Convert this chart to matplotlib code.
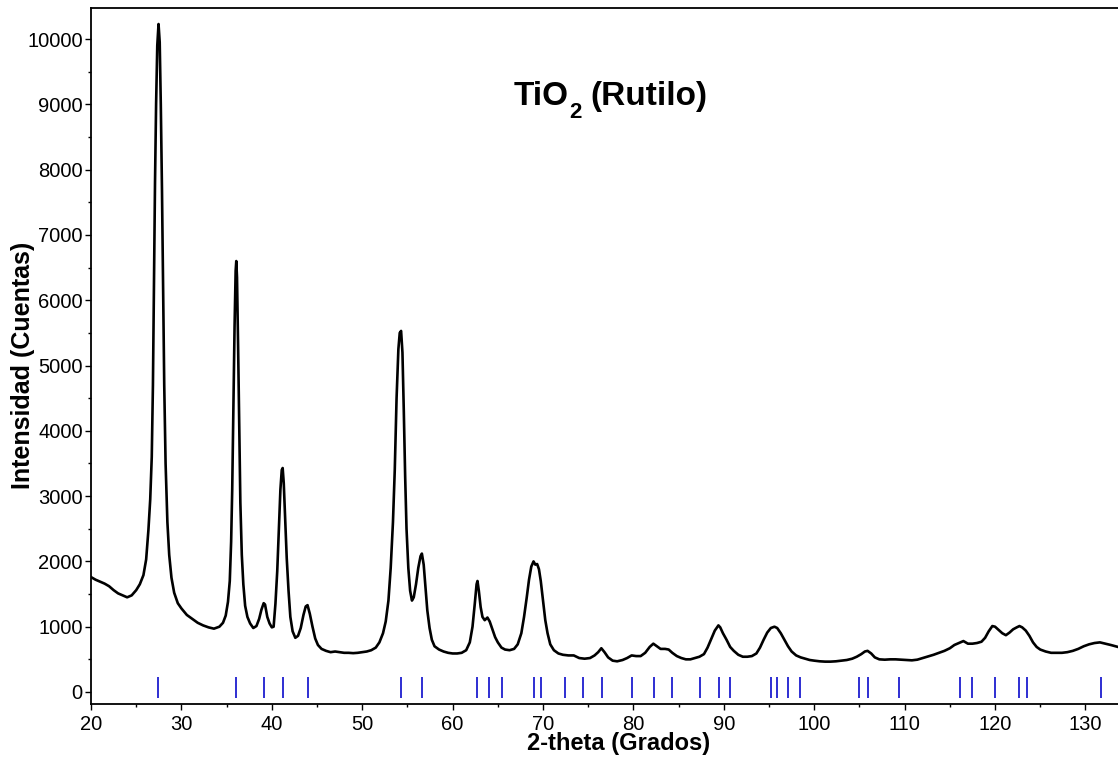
import matplotlib
matplotlib.use("Agg")
import matplotlib.pyplot as plt
from matplotlib.ticker import MultipleLocator
from matplotlib.transforms import offset_copy

plt.rcParams['font.family'] = ['Liberation Sans', 'DejaVu Sans']

# Diffraction pattern: 2-theta (degrees) and intensity (counts)
two_theta = [
    20.0, 20.5, 21.0, 21.5, 22.0, 22.5, 23.0, 23.5, 24.0, 24.5, 25.0, 25.4, 25.8,
    26.1, 26.35, 26.55, 26.72, 26.85, 26.97, 27.08, 27.2, 27.33, 27.47, 27.6,
    27.72, 27.85, 27.97, 28.1, 28.25, 28.45, 28.65, 28.9, 29.2, 29.6, 30.0, 30.6,
    31.2, 31.8, 32.4, 33.0, 33.6, 34.2, 34.6, 34.9, 35.15, 35.35, 35.5, 35.62,
    35.75, 35.88, 36.0, 36.07, 36.15, 36.27, 36.4, 36.52, 36.68, 36.85, 37.05,
    37.3, 37.6, 37.95, 38.3, 38.6, 38.85, 39.1, 39.25, 39.5, 39.75, 40.0, 40.2,
    40.4, 40.6, 40.78, 40.95, 41.1, 41.2, 41.32, 41.48, 41.65, 41.85, 42.05,
    42.3, 42.6, 42.9, 43.2, 43.5, 43.75, 43.95, 44.2, 44.5, 44.8, 45.1, 45.5,
    46.0, 46.5, 47.0, 47.5, 48.0, 48.5, 49.0, 49.5, 50.0, 50.5, 51.0, 51.5,
    51.9, 52.3, 52.6, 52.9, 53.15, 53.4, 53.6, 53.8, 54.0, 54.15, 54.3, 54.45,
    54.6, 54.75, 54.9, 55.1, 55.3, 55.5, 55.7, 55.95, 56.2, 56.45, 56.6, 56.8,
    57.0, 57.2, 57.45, 57.7, 58.0, 58.5, 59.0, 59.5, 60.0, 60.5, 61.0, 61.5,
    61.9, 62.2, 62.45, 62.65, 62.75, 62.9, 63.1, 63.3, 63.55, 63.85, 64.1, 64.4,
    64.7, 65.0, 65.4, 65.8, 66.3, 66.8, 67.2, 67.6, 67.9, 68.2, 68.45, 68.7,
    68.95, 69.15, 69.35, 69.55, 69.75, 70.0, 70.25, 70.5, 70.8, 71.2, 71.7,
    72.2, 72.8, 73.4, 74.0, 74.6, 75.2, 75.7, 76.1, 76.45, 76.8, 77.2, 77.7,
    78.2, 78.8, 79.3, 79.8, 80.3, 80.8, 81.3, 81.8, 82.2, 82.6, 83.0, 83.5,
    83.9, 84.3, 84.8, 85.3, 85.8, 86.3, 86.8, 87.3, 87.8, 88.2, 88.6, 89.0,
    89.4, 89.6, 89.9, 90.3, 90.7, 91.1, 91.6, 92.1, 92.6, 93.1, 93.6, 94.0,
    94.4, 94.8, 95.2, 95.6, 95.9, 96.3, 96.7, 97.1, 97.5, 98.0, 98.5, 99.0,
    99.5, 100.0, 100.6, 101.2, 101.8, 102.4, 103.0, 103.6, 104.2, 104.7, 105.2,
    105.6, 105.9, 106.3, 106.7, 107.2, 107.8, 108.4, 109.0, 109.6, 110.2, 110.8,
    111.4, 112.0, 112.6, 113.2, 113.8, 114.4, 115.0, 115.5, 116.0, 116.5, 117.0,
    117.5, 118.0, 118.5, 118.9, 119.3, 119.7, 120.0, 120.4, 120.8, 121.2, 121.6,
    122.0, 122.4, 122.7, 123.0, 123.4, 123.8, 124.2, 124.6, 125.0, 125.6, 126.2,
    126.8, 127.4, 128.0, 128.6, 129.2, 129.8, 130.4, 131.0, 131.6, 132.2, 132.8,
    133.6,
]
intensity = [
    1760, 1720, 1690, 1660, 1620, 1560, 1510, 1480, 1450, 1480, 1560, 1650, 1790,
    2030, 2480, 2950, 3600, 4700, 6300, 7800, 9000, 9900, 10230, 9950,
    9000, 7700, 6200, 4700, 3500, 2600, 2100, 1750, 1520, 1360, 1280, 1180,
    1120, 1060, 1020, 990, 970, 1000, 1060, 1170, 1380, 1700, 2300, 3100,
    4300, 5600, 6450, 6600, 6350, 5300, 4000, 2900, 2100, 1650, 1320,
    1150, 1050, 980, 1010, 1120, 1260, 1360, 1340, 1150, 1050, 990, 1000,
    1350, 1850, 2500, 3100, 3400, 3430, 3200, 2650, 2050, 1550, 1150,
    930, 830, 860, 980, 1180, 1310, 1330, 1200, 1000, 820, 720, 660,
    630, 610, 620, 610, 600, 600, 595, 600, 610, 620, 640, 680,
    760, 900, 1080, 1400, 1900, 2600, 3400, 4500, 5250, 5500, 5530, 5200,
    4300, 3300, 2500, 1900, 1550, 1400, 1450, 1650, 1900, 2080, 2120, 1950,
    1600, 1250, 980, 800, 700, 650, 620, 600, 590, 590, 600, 640,
    760, 1000, 1350, 1650, 1700, 1550, 1300, 1150, 1100, 1140, 1080, 960,
    840, 760, 680, 650, 640, 660, 730, 900, 1150, 1450, 1720, 1920,
    2000, 1950, 1960, 1880, 1700, 1400, 1100, 900, 730, 640, 590,
    570, 560, 560, 520, 510, 520, 560, 610, 670, 610, 530, 480,
    470, 490, 520, 560, 550, 550, 600, 690, 740, 700, 660, 660,
    650, 600, 550, 520, 500, 500, 520, 540, 580, 680, 810, 940,
    1020, 990, 900, 800, 690, 630, 570, 540, 540, 550, 590, 680,
    800, 910, 980, 1000, 980, 900, 800, 700, 620, 560, 530, 510,
    490, 480, 470, 465, 465, 470, 480, 490, 510, 540, 580,
    620, 630, 590, 530, 500, 495, 500, 500, 495, 490, 485,
    495, 520, 545, 570, 600, 630, 670, 720, 750, 780, 740,
    740, 750, 770, 830, 930, 1010, 1000, 950, 900, 870, 910,
    960, 990, 1010, 990, 940, 860, 760, 690, 650, 620, 600,
    600, 600, 610, 630, 660, 700, 730, 750, 760, 740, 720,
    690,
]

# Reference reflection positions for rutile (2-theta, degrees)
ref_positions = [
    27.45, 36.05, 39.18, 41.22, 44.04, 54.3, 56.64, 62.7, 64.02, 65.47, 68.99,
    69.79, 72.4, 74.38, 76.5, 79.8, 82.3, 84.22, 87.4, 89.5, 90.65, 95.2, 95.9,
    97.1, 98.45, 105.0, 105.95, 109.35, 116.15, 117.4, 120.0, 122.7, 123.55,
    131.75,
]

x_major_ticks = list(range(20, 131, 10))
y_major_ticks = list(range(0, 10001, 1000))

fig = plt.figure(figsize=(11.18, 7.57), dpi=100)
ax = fig.add_axes([0.0814, 0.070, 0.9186, 0.9194])

ax.plot(two_theta, intensity, color='black', lw=1.9, solid_joinstyle='round')
ax.vlines(ref_positions, -90, 230, color='#2e2ed2', lw=1.4)

ax.set_xlim(20, 133.6)
ax.set_ylim(-184, 10475)

ax.set_xticks(x_major_ticks)
ax.set_yticks(y_major_ticks)
ax.xaxis.set_minor_locator(MultipleLocator(5))
ax.yaxis.set_minor_locator(MultipleLocator(500))

ax.tick_params(axis='both', which='major', direction='out', length=4.5,
               width=1.0, labelsize=14.5, color='black')
ax.tick_params(axis='both', which='minor', direction='out', length=2.5,
               width=1.0, color='black')
ax.tick_params(axis='x', which='major', pad=3.5)
ax.tick_params(axis='y', which='major', pad=1.5)

for side in ('left', 'bottom', 'top'):
    ax.spines[side].set_linewidth(1.3)
ax.spines['right'].set_visible(False)

ax.set_xlabel('2-theta (Grados)', fontsize=17, fontweight='bold')
ax.set_ylabel('Intensidad (Cuentas)', fontsize=18, fontweight='bold')
ax.xaxis.label.set_va('baseline')
ax.xaxis.set_label_coords(0.514, -0.0655)
ax.yaxis.set_label_coords(-0.0545, 0.487)

# Title: "TiO" + subscript "2" + " (Rutilo)"
fig.canvas.draw()
renderer = fig.canvas.get_renderer()
tx, ty = 66.7, 8990
t_main = ax.text(tx, ty, 'TiO', fontsize=24, fontweight='bold',
                 ha='left', va='baseline')
w_main = t_main.get_window_extent(renderer=renderer).width
t_sub = ax.text(tx, ty, '2', fontsize=16, fontweight='bold', ha='left',
                va='baseline',
                transform=offset_copy(ax.transData, fig=fig, x=w_main + 1,
                                      y=-13, units='dots'))
w_sub = t_sub.get_window_extent(renderer=renderer).width
ax.text(tx, ty, '(Rutilo)', fontsize=24, fontweight='bold', ha='left',
        va='baseline',
        transform=offset_copy(ax.transData, fig=fig,
                              x=w_main + 1 + w_sub + 9, y=0, units='dots'))

fig.savefig('out.png', dpi=100)
